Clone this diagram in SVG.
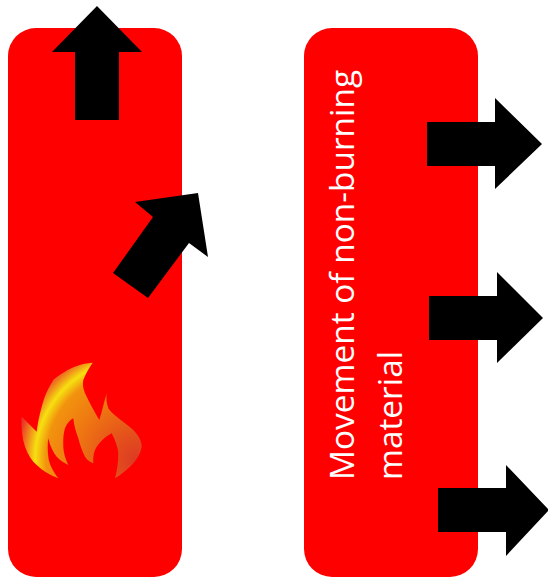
<svg xmlns="http://www.w3.org/2000/svg" width="548" height="579" viewBox="0 0 548 579">
<style>
.panel{fill:#ff0000}
.arrow{fill:#000000}
.label{font-family:"Open Sans","Noto Sans","Liberation Sans",sans-serif;font-size:33.4px;fill:#ffffff}
</style>
<defs>
<radialGradient id="flameFill" gradientUnits="userSpaceOnUse" cx="137" cy="460" r="120">
<stop offset="0" stop-color="#dc3a24"/>
<stop offset="0.22" stop-color="#e4501c"/>
<stop offset="0.5" stop-color="#ee7412"/>
<stop offset="0.76" stop-color="#f2930e"/>
<stop offset="0.85" stop-color="#f6e010"/>
<stop offset="0.9" stop-color="#f2a518"/>
<stop offset="1" stop-color="#ea3528"/>
</radialGradient>
</defs>
<rect width="548" height="579" fill="#ffffff"/>
<g id="panel-burning">
<rect class="panel" x="8" y="28" width="174" height="549" rx="28"/>
<path id="flame" fill="url(#flameFill)" d="M92.7 362.7C70 364 53.3 380 53.3 380C47 390 44 398 41.7 406.7C39 416 37.5 425 36.7 431.7L21.7 416.7C21 428 22 438 25 446.7C28 455 32 461 36.7 465C43 471 50 475 58.3 478.3C52 470 49 463 48.3 456.7C47.5 450 47.5 444 48.3 438.3C50 446 53 452 56.7 456.7C60 460 64 463 68.3 465C65 458 63.5 452 63.3 446.7C63 439 63.5 433 65 428.3C67 423 70 420 73.3 418.3C74 426 76 432 78.3 438.3C80 445 82 451 85 456.7C87 460 90 462 93.3 463.3C93 458 93.5 454 95 450C99 442 105 437 111.7 433.3C115 440 118 447 118.3 453.3C118.5 462 117 471 115 478.3C122 474 128 469 133.3 463.3C138 458 141 452 141.7 446.7C141.5 440 138 435 133.3 430C128 425 122 421 116.7 416.7C113 414 110 411 108.3 408.3C106.5 403 106 398 106.7 393.3C104 402 102 412 99.3 420C94 411 89 402 85 393.3C83 388 82.5 384 83.3 380C86 373 89 368 92.7 362.7Z"/>
</g>
<g id="panel-non-burning">
<rect class="panel" x="304" y="28" width="174" height="549" rx="28"/>
<text class="label" transform="translate(354 480) rotate(-90)">Movement of non-burning</text>
<text class="label" transform="translate(402 480) rotate(-90)">material</text>
</g>
<g id="connectors">
<polygon class="arrow" points="97,6 142,52 119,52 119,120 75,120 75,52 52,52"/>
<polygon class="arrow" points="198,193 135,202 153,217 113,273 148,298 189,243 208,257"/>
<polygon class="arrow" points="542,144 495,98 495,122 427,122 427,166 495,166 495,189"/>
<polygon class="arrow" points="543,318 497,272 497,296 429,296 429,340 497,340 497,363"/>
<polygon class="arrow" points="549,510 506,465 506,488 438,488 438,532 506,532 506,556"/>
</g>
</svg>
